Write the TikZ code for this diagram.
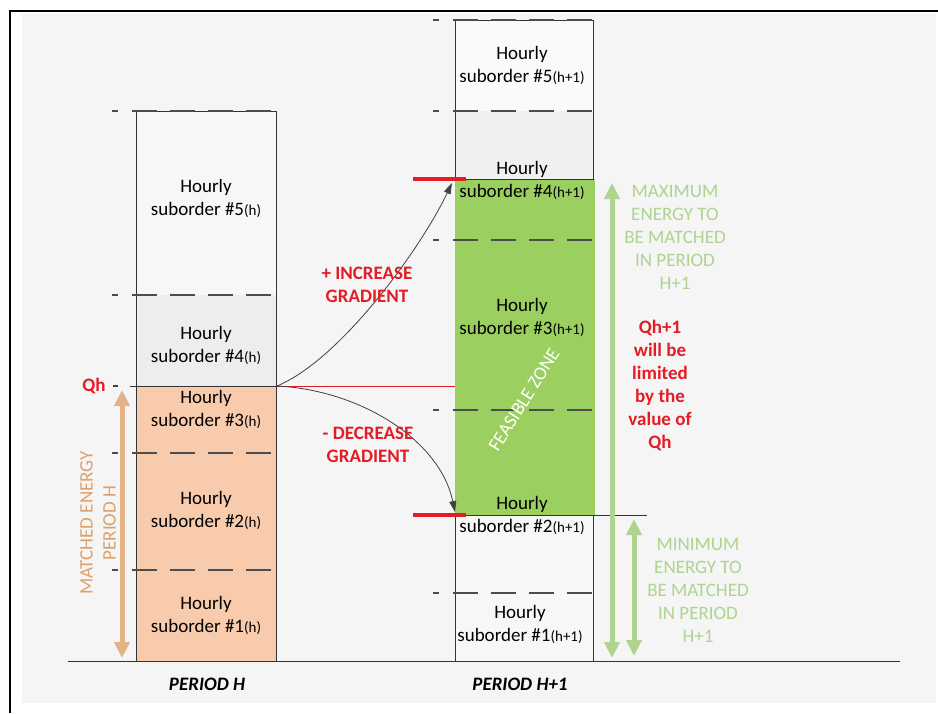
\documentclass[tikz,border=0pt]{standalone}
\usepackage{fontspec}
\setmainfont{Carlito}
\usetikzlibrary{arrows.meta}

\definecolor{peach}{HTML}{F8CBAD}
\definecolor{leaf}{HTML}{9BCF5F}
\definecolor{paleleaf}{HTML}{AED48F}
\definecolor{tan}{HTML}{E2B386}
\definecolor{tantext}{HTML}{DDA06A}
\definecolor{alert}{HTML}{E31C25}
\definecolor{backdrop}{HTML}{F5F5F5}

\newcommand{\hsub}[1]{{\fontsize{15}{15}\selectfont(#1)}}

\tikzset{
  cut/.style={black!70, line width=1.3pt,
    dash pattern=on 6pt off 14pt on 25pt off 13pt on 25pt off 13pt on 25pt off 13pt on 25pt off 13pt},
  redbar/.style={alert, line width=3.5pt},
  band/.style={line width=5pt, {Triangle[width=15pt,length=16pt]}-{Triangle[width=15pt,length=16pt]}},
  grad/.style={black!75, line width=0.8pt, -{Triangle[length=11pt,width=7pt]}}
}

\begin{document}
\begin{tikzpicture}[x=1pt,y=-1pt]

  \useasboundingbox (0,0) rectangle (938,713);
  \fill[white] (0,0) rectangle (938,713);
  \fill[backdrop] (22,14) rectangle (936,703);
  \draw[line width=2.5pt] (10,713) -- (10,11);
  \draw[line width=1.4pt] (9,11) -- (938,11);

  \fill[black!3] (136,111) rectangle (276,295);
  \fill[black!7] (136,295) rectangle (276,386);
  \fill[peach] (136,386) rectangle (276,661);
  \fill[black!2] (455,20) rectangle (593,111);
  \fill[black!6] (455,111) rectangle (593,179);
  \fill[leaf] (455,179) rectangle (595,515);
  \fill[white!97!black] (455,515) rectangle (593,661);

  \draw[black!80] (136,111) rectangle (276,661);
  \draw[black!80] (455,20) rectangle (593,179);
  \draw[black!80] (455,515) rectangle (593,661);

  \foreach \y in {111,295,453,570}
    \draw[cut] (112,\y) -- (276,\y);
  \foreach \y in {20,111,240,410,593}
    \draw[cut] (433,\y) -- (593,\y);
  \draw[black!75, line width=1.3pt] (113,386) -- (118,386);
  \draw[black!80] (130,386) -- (276,386);

  \coordinate (qh) at (277,386);
  \coordinate (hi) at (452,183);
  \coordinate (lo) at (455,512);
  \coordinate (qhend) at (455,386);
  \coordinate (floorl) at (68,661);
  \coordinate (floorr) at (900,661);
  \coordinate (minl) at (455,515);
  \coordinate (minr) at (647,515);

  \draw[black!80] (floorl) -- (floorr);
  \draw[black!80] (minl) -- (minr);
  \draw[alert, line width=0.9pt] (qh) -- (qhend);
  \draw[redbar] (413,179) -- (466,179);
  \draw[redbar] (413,515) -- (466,515);

  \begin{scope}[every node/.style={font=\fontsize{19}{23}\selectfont, align=center, inner sep=0pt}]
    \node (h5) at (206,198) {Hourly\\suborder \#5\hsub{h}};
    \node (h4) at (206,345) {Hourly\\suborder \#4\hsub{h}};
    \node (h3) at (206,409) {Hourly\\suborder \#3\hsub{h}};
    \node (h2) at (206,510) {Hourly\\suborder \#2\hsub{h}};
    \node (h1) at (206,615) {Hourly\\suborder \#1\hsub{h}};
    \node (n5) at (522,65)  {Hourly\\suborder \#5\hsub{h+1}};
    \node (n4) at (522,180) {Hourly\\suborder \#4\hsub{h+1}};
    \node (n3) at (522,317) {Hourly\\suborder \#3\hsub{h+1}};
    \node (n2) at (522,515) {Hourly\\suborder \#2\hsub{h+1}};
    \node (n1) at (520,624) {Hourly\\suborder \#1\hsub{h+1}};
  \end{scope}

  \draw[grad] (qh) .. controls (340,360) and (420,250) .. (hi);
  \draw[grad] (qh) .. controls (360,390) and (440,440) .. (lo);

  \draw[band, tan] (122,390) -- (122,658);
  \draw[band, paleleaf] (612,183) -- (612,658);
  \draw[band, paleleaf] (634,519) -- (634,656);

  \begin{scope}[every node/.style={font=\fontsize{19}{23}\selectfont\bfseries, align=center, text=alert, inner sep=0pt}]
    \node (qhlabel) at (94,386) {Qh};
    \node (up)   at (367,285) {+ INCREASE\\GRADIENT};
    \node (down) at (368,445) {- DECREASE\\GRADIENT};
    \node (limit) at (660,386) {Qh+1\\will be\\limited\\by the\\value of\\Qh};
  \end{scope}

  \begin{scope}[every node/.style={font=\fontsize{19}{23}\selectfont, align=center, text=paleleaf, inner sep=0pt}]
    \node (maxi) at (675,237) {MAXIMUM\\ENERGY TO\\BE MATCHED\\IN PERIOD\\H+1};
    \node (mini) at (698,590) {MINIMUM\\ENERGY TO\\BE MATCHED\\IN PERIOD\\H+1};
  \end{scope}

  \node[font=\fontsize{19}{23}\selectfont, align=center, text=tantext, rotate=90, inner sep=0pt]
    (matched) at (98,523) {MATCHED ENERGY\\PERIOD H};
  \node[font=\fontsize{19}{22}\selectfont, text=white, rotate=58, inner sep=0pt]
    (zone) at (524,400) {FEASIBLE ZONE};

  \node[font=\fontsize{19}{23}\selectfont\bfseries\itshape, inner sep=0pt] (ph)  at (207,684) {PERIOD H};
  \node[font=\fontsize{19}{23}\selectfont\bfseries\itshape, inner sep=0pt] (ph1) at (520,684) {PERIOD H+1};

\end{tikzpicture}
\end{document}
